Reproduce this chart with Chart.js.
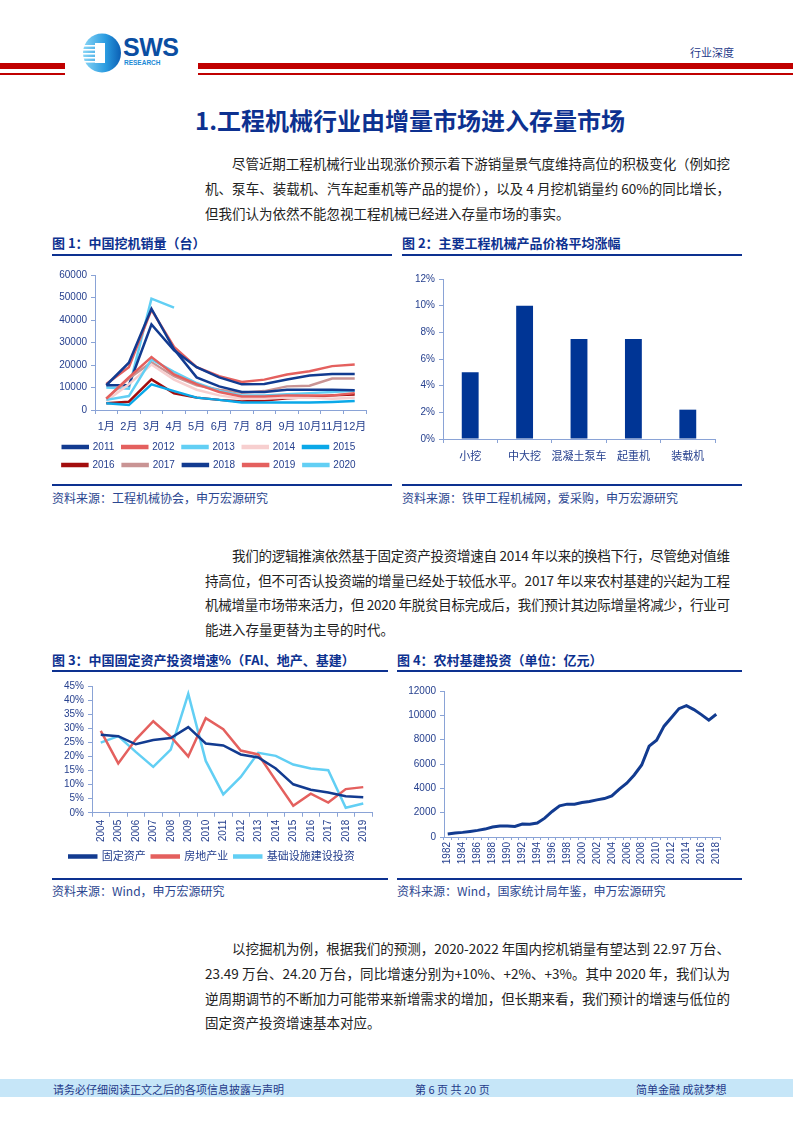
<!DOCTYPE html>
<html><head><meta charset="utf-8">
<script src="https://cdn.jsdelivr.net/npm/chart.js@4.4.1/dist/chart.umd.min.js"></script>
<style>
body{margin:0;background:#fff;}
#page{position:relative;width:793px;height:1122px;overflow:hidden;font-family:"Noto Sans CJK SC","Noto Sans",sans-serif;background:#fff;}
.abs{position:absolute;}
.line{position:absolute;white-space:nowrap;font-size:13.5px;color:#222;line-height:20px;}
.figt{position:absolute;font-size:13px;font-weight:bold;color:#0d3190;white-space:nowrap;line-height:16px;}
.rule{position:absolute;height:2px;background:#0d3190;}
.src{position:absolute;font-size:12px;color:#2b4690;white-space:nowrap;line-height:16px;}
.cw{position:absolute;}
.foot{position:absolute;font-size:11px;color:#1f3a8a;white-space:nowrap;line-height:14px;top:1082px;}
</style></head>
<body>
<div id="page">
  <!-- header -->
  <div class="abs" style="left:0;top:63px;width:65px;height:6px;background:#c00000"></div>
  <div class="abs" style="left:0;top:73px;width:65px;height:2px;background:#c00000"></div>
  <div class="abs" style="left:198px;top:63px;width:595px;height:6px;background:#c00000"></div>
  <div class="abs" style="left:198px;top:73px;width:595px;height:2px;background:#c00000"></div>
  <svg class="abs" style="left:82px;top:33px" width="40" height="40" viewBox="0 0 40 40">
    <defs><linearGradient id="lg" x1="0" y1="0" x2="1" y2="0"><stop offset="0" stop-color="#8ad6f6"/><stop offset="0.6" stop-color="#2a9be0"/><stop offset="1" stop-color="#0b5fb4"/></linearGradient></defs>
    <ellipse cx="20" cy="20" rx="19" ry="19.5" fill="url(#lg)"/>
    <rect x="13" y="10" width="10" height="20" fill="#fff"/>
    <rect x="1" y="12" width="12" height="1.6" fill="#fff"/>
    <rect x="1" y="16" width="12" height="1.6" fill="#fff"/>
    <rect x="1" y="20" width="12" height="1.6" fill="#fff"/>
    <rect x="1" y="24" width="12" height="1.6" fill="#fff"/>
    <rect x="1" y="28" width="12" height="1.6" fill="#fff"/>
  </svg>
  <div class="abs" style="left:123px;top:33px;font-family:'Liberation Sans',sans-serif;font-weight:bold;font-size:25px;color:#0b4ea2;line-height:28px;letter-spacing:-0.5px">SWS</div>
  <div class="abs" style="left:124px;top:59px;font-family:'Liberation Sans',sans-serif;font-weight:bold;font-size:6.5px;color:#1a8ad6;line-height:8px">RESEARCH</div>
  <div class="abs" style="left:690px;top:45px;font-size:11px;color:#1f3a8a;line-height:14px">行业深度</div>

  <!-- title -->
  <div class="abs" style="left:195px;top:105px;font-size:24px;font-weight:bold;color:#0d3190;line-height:30px;white-space:nowrap">1.工程机械行业由增量市场进入存量市场</div>

  <!-- paragraph 1 -->
  <div class="line" data-w="498" style="left:232px;top:153px">尽管近期工程机械行业出现涨价预示着下游销量景气度维持高位的积极变化（例如挖</div>
  <div class="line" data-w="525" style="left:205px;top:178px">机、泵车、装载机、汽车起重机等产品的提价），以及 4 月挖机销量约 60%的同比增长，</div>
  <div class="line" style="left:205px;top:203px">但我们认为依然不能忽视工程机械已经进入存量市场的事实。</div>

  <!-- fig 1 / 2 titles -->
  <div class="figt" style="left:52px;top:235px">图 1：中国挖机销量（台）</div>
  <div class="rule" style="left:52px;top:254px;width:340px"></div>
  <div class="figt" style="left:402px;top:235px">图 2：主要工程机械产品价格平均涨幅</div>
  <div class="rule" style="left:402px;top:254px;width:340px"></div>

  <div class="cw" style="left:52px;top:265px;width:340px;height:215px"><canvas id="c1"></canvas></div>
  <div class="cw" style="left:402px;top:265px;width:340px;height:212px"><canvas id="c2"></canvas></div>

  <div class="rule" style="left:52px;top:484px;width:340px"></div>
  <div class="rule" style="left:402px;top:484px;width:340px"></div>
  <div class="src" style="left:52px;top:490px">资料来源：工程机械协会，申万宏源研究</div>
  <div class="src" style="left:402px;top:490px">资料来源：铁甲工程机械网，爱采购，申万宏源研究</div>

  <!-- paragraph 2 -->
  <div class="line" data-w="498" style="left:232px;top:545px">我们的逻辑推演依然基于固定资产投资增速自 2014 年以来的换档下行，尽管绝对值维</div>
  <div class="line" data-w="525" style="left:205px;top:570px">持高位，但不可否认投资端的增量已经处于较低水平。2017 年以来农村基建的兴起为工程</div>
  <div class="line" data-w="525" style="left:205px;top:594px">机械增量市场带来活力，但 2020 年脱贫目标完成后，我们预计其边际增量将减少，行业可</div>
  <div class="line" style="left:205px;top:619px">能进入存量更替为主导的时代。</div>

  <!-- fig 3 / 4 titles -->
  <div class="figt" style="left:52px;top:652px">图 3：中国固定资产投资增速%（FAI、地产、基建）</div>
  <div class="rule" style="left:52px;top:670px;width:336px"></div>
  <div class="figt" style="left:397px;top:652px">图 4：农村基建投资（单位：亿元）</div>
  <div class="rule" style="left:397px;top:670px;width:345px"></div>

  <div class="cw" style="left:52px;top:675px;width:336px;height:197px"><canvas id="c3"></canvas></div>
  <div class="cw" style="left:397px;top:675px;width:345px;height:197px"><canvas id="c4"></canvas></div>

  <div class="rule" style="left:52px;top:878px;width:336px"></div>
  <div class="rule" style="left:397px;top:878px;width:345px"></div>
  <div class="src" style="left:52px;top:883px">资料来源：Wind，申万宏源研究</div>
  <div class="src" style="left:397px;top:883px">资料来源：Wind，国家统计局年鉴，申万宏源研究</div>

  <!-- paragraph 3 -->
  <div class="line" data-w="498" style="left:232px;top:938px">以挖掘机为例，根据我们的预测，2020-2022 年国内挖机销量有望达到 22.97 万台、</div>
  <div class="line" data-w="525" style="left:205px;top:963px">23.49 万台、24.20 万台，同比增速分别为+10%、+2%、+3%。其中 2020 年，我们认为</div>
  <div class="line" data-w="525" style="left:205px;top:988px">逆周期调节的不断加力可能带来新增需求的增加，但长期来看，我们预计的增速与低位的</div>
  <div class="line" style="left:205px;top:1012px">固定资产投资增速基本对应。</div>

  <!-- footer -->
  <div class="abs" style="left:0;top:1079px;width:793px;height:18px;background:#c6e6f8"></div>
  <div class="foot" style="left:53px">请务必仔细阅读正文之后的各项信息披露与声明</div>
  <div class="foot" style="left:415px">第 6 页 共 20 页</div>
  <div class="foot" style="left:636px">简单金融 成就梦想</div>
</div>

<script>
// ---------- data ----------
const months = ['1月','2月','3月','4月','5月','6月','7月','8月','9月','10月','11月','12月'];
const sales2011 = [11000, 21000, 45000, 27000, 14500, 10500, 8000, 8000, 9000, 9000, 9000, 8800];
const sales2012 = [5000, 14500, 23500, 15800, 11500, 8000, 6000, 6000, 6500, 6500, 6500, 7500];
const sales2013 = [4500, 6200, 22500, 17000, 12000, 8500, 6500, 6500, 7000, 7500, 8000, 8500];
const sales2014 = [4000, 11400, 20200, 13500, 9000, 6500, 5000, 5000, 5500, 5500, 5000, 5400];
const sales2015 = [3000, 2200, 11400, 8400, 5500, 4500, 3300, 3300, 3300, 3300, 3600, 4000];
const sales2016 = [3000, 3700, 13600, 7400, 5500, 4500, 3800, 4200, 5200, 5700, 6500, 6900];
const sales2017 = [5000, 14000, 21200, 15000, 11000, 9000, 7700, 8400, 10500, 10800, 14000, 14000];
const sales2018 = [11000, 11000, 38000, 26500, 19000, 14500, 11400, 11600, 13600, 15300, 16000, 16000];
const sales2019 = [11600, 19000, 44500, 28000, 19000, 15000, 12500, 13500, 15800, 17200, 19500, 20200];
const sales2020 = [10000, 9500, 49500, 45500, null, null, null, null, null, null, null, null];

const products = ['小挖','中大挖','混凝土泵车','起重机','装载机'];
const priceRise = [5, 10, 7.5, 7.5, 2.2];

const fYears = ['2004','2005','2006','2007','2008','2009','2010','2011','2012','2013','2014','2015','2016','2017','2018','2019'];
const faiGrowth = [27.7, 27.2, 24.3, 25.8, 26.5, 30.4, 24.6, 23.9, 20.7, 19.6, 15.7, 10.1, 8.2, 7.2, 5.9, 5.5];
const realEstateGrowth = [29.1, 17.5, 26.0, 32.5, 27.0, 20.0, 33.6, 29.7, 22.1, 20.7, 11.5, 2.5, 6.8, 3.6, 8.4, 9.1];
const infraGrowth = [24.9, 27.2, 21.6, 16.3, 22.4, 42.2, 18.4, 6.5, 12.7, 21.3, 20.2, 17.1, 15.7, 15.1, 1.8, 3.3];

const ruralYears = ['1982','1983','1984','1985','1986','1987','1988','1989','1990','1991','1992','1993','1994','1995','1996','1997','1998','1999','2000','2001','2002','2003','2004','2005','2006','2007','2008','2009','2010','2011','2012','2013','2014','2015','2016','2017','2018'];
const ruralInvest = [245, 330, 380, 460, 545, 650, 820, 900, 900, 870, 1060, 1040, 1150, 1550, 2100, 2560, 2700, 2700, 2840, 2920, 3050, 3160, 3380, 3930, 4420, 5100, 5920, 7470, 7960, 9110, 9820, 10550, 10800, 10470, 10060, 9600, 10090];

// ---------- text fitting ----------
function fitLines(){
  document.querySelectorAll('.line[data-w]').forEach(el=>{
    el.style.letterSpacing='0px';
    const w = el.getBoundingClientRect().width;
    const n = [...el.textContent].length;
    el.style.letterSpacing = ((+el.dataset.w - w)/(n-1)) + 'px';
  });
}
fitLines();
if (document.fonts && document.fonts.ready) document.fonts.ready.then(fitLines);

// ---------- charts ----------
Chart.defaults.font.family = '"Liberation Sans","Noto Sans CJK SC",sans-serif';
Chart.defaults.color = '#27418f';
Chart.defaults.animation = false;
const AX = '#8aa3d6';
const NAVY = '#123b90', RED = '#e4605e', LBLUE = '#62cff4', PINK = '#f7cfcf', CYAN = '#0aa8e8', DRED = '#a30d0d', ROSY = '#c99494';

function ds(label, data, color){
  return {label, data, borderColor: color, backgroundColor: color, borderWidth: 2.5, pointRadius: 0, tension: 0, spanGaps: false};
}
function axisBase(){
  return {grid:{drawOnChartArea:false,color:AX,tickLength:4},border:{color:AX,width:1}};
}

new Chart(document.getElementById('c1'), {
  type: 'line',
  data: {labels: months, datasets: [
    ds('2011', sales2011, NAVY), ds('2012', sales2012, RED), ds('2013', sales2013, LBLUE),
    ds('2014', sales2014, PINK), ds('2015', sales2015, CYAN), ds('2016', sales2016, DRED),
    ds('2017', sales2017, ROSY), ds('2018', sales2018, NAVY), ds('2019', sales2019, RED),
    ds('2020', sales2020, LBLUE)
  ]},
  options: {
    responsive: true, maintainAspectRatio: false,
    layout: {padding: {top: 8, right: 26, left: 0, bottom: 0}},
    plugins: {legend: {position: 'bottom', labels: {boxWidth: 25, boxHeight: 2, font: {size: 10}, padding: 8, color: '#27418f'}}, tooltip: {enabled: false}},
    scales: {
      x: Object.assign(axisBase(), {offset: true, grid: {offset: true, drawOnChartArea: false, color: AX, tickLength: 4}, ticks: {font: {size: 11}, padding: 6, maxRotation: 0, autoSkip: false}, afterFit(s){ s.height = 24; }}),
      y: Object.assign(axisBase(), {min: 0, max: 60000, ticks: {stepSize: 10000, autoSkip: false, font: {size: 10}, padding: 4, callback: v => String(v)}, afterFit(s){ s.width = 43; }})
    }
  }
});

new Chart(document.getElementById('c2'), {
  type: 'bar',
  data: {labels: products, datasets: [{label: '涨幅', data: priceRise, backgroundColor: '#003595', barPercentage: 0.31, categoryPercentage: 1}]},
  options: {
    responsive: true, maintainAspectRatio: false,
    layout: {padding: {top: 14, right: 27, left: 0, bottom: 12}},
    plugins: {legend: {display: false}, tooltip: {enabled: false}},
    scales: {
      x: Object.assign(axisBase(), {grid: {offset: true, drawOnChartArea: false, color: AX, tickLength: 4}, ticks: {font: {size: 11}, padding: 7, maxRotation: 0, autoSkip: false}, afterFit(s){ s.height = 26; }}),
      y: Object.assign(axisBase(), {min: 0, max: 12, ticks: {stepSize: 2, autoSkip: false, font: {size: 10}, padding: 4, callback: v => v + '%'}, afterFit(s){ s.width = 41; }})
    }
  }
});

new Chart(document.getElementById('c3'), {
  type: 'line',
  data: {labels: fYears, datasets: [ds('固定资产', faiGrowth, NAVY), ds('房地产业', realEstateGrowth, RED), ds('基础设施建设投资', infraGrowth, LBLUE)]},
  options: {
    responsive: true, maintainAspectRatio: false,
    layout: {padding: {top: 11, right: 16, left: 0, bottom: 0}},
    plugins: {legend: {position: 'bottom', labels: {boxWidth: 27, boxHeight: 2, font: {size: 11}, padding: 6, color: '#27418f'}}, tooltip: {enabled: false}},
    scales: {
      x: Object.assign(axisBase(), {offset: true, grid: {offset: true, drawOnChartArea: false, color: AX, tickLength: 4}, ticks: {font: {size: 10}, padding: 3, minRotation: 90, maxRotation: 90, autoSkip: false}}),
      y: Object.assign(axisBase(), {min: 0, max: 45, ticks: {stepSize: 5, autoSkip: false, font: {size: 10}, padding: 4, callback: v => v + '%'}, afterFit(s){ s.width = 40; }})
    }
  }
});

new Chart(document.getElementById('c4'), {
  type: 'line',
  data: {labels: ruralYears, datasets: [Object.assign(ds('农村基建投资', ruralInvest, NAVY), {borderWidth: 3})]},
  options: {
    responsive: true, maintainAspectRatio: false,
    layout: {padding: {top: 16, right: 22, left: 0, bottom: 5}},
    plugins: {legend: {display: false}, tooltip: {enabled: false}},
    scales: {
      x: Object.assign(axisBase(), {offset: true, grid: {offset: true, drawOnChartArea: false, color: AX, tickLength: 3}, ticks: {font: {size: 10}, padding: 2, minRotation: 90, maxRotation: 90, autoSkip: false, callback: function(v, i){ return i % 2 === 0 ? this.getLabelForValue(v) : ''; }}, afterFit(s){ s.height = 30; }}),
      y: Object.assign(axisBase(), {min: 0, max: 12000, ticks: {stepSize: 2000, autoSkip: false, font: {size: 10}, padding: 4, callback: v => String(v)}, afterFit(s){ s.width = 47; }})
    }
  }
});
</script>
</body></html>
